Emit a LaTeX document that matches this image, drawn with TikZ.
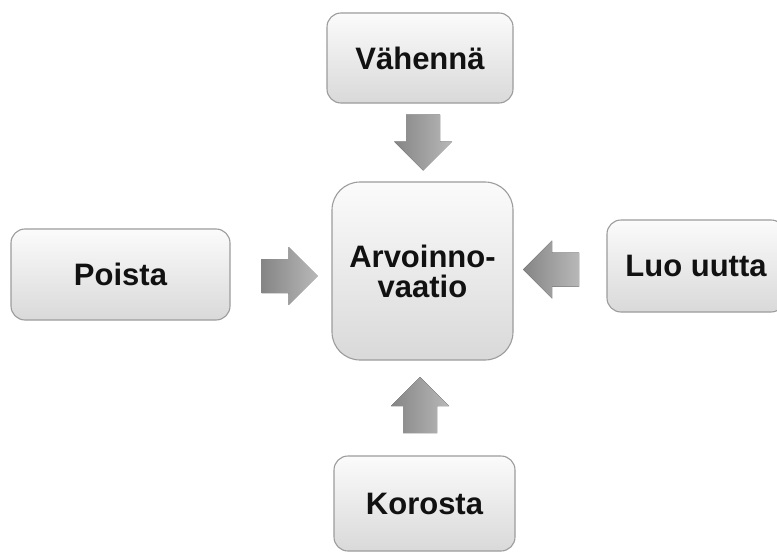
\documentclass[tikz,border=0pt]{standalone}
\usepackage{fontspec}
\setmainfont{Liberation Sans}
\definecolor{boxline}{HTML}{9C9C9C}
\definecolor{boxtop}{HTML}{FBFBFB}
\definecolor{boxbot}{HTML}{D9D9D9}
\definecolor{arrdark}{HTML}{858585}
\definecolor{arrlight}{HTML}{B8B8B8}
\definecolor{txt}{HTML}{111111}
\tikzset{
  box/.style={draw=boxline, line width=1.1pt, rounded corners=14pt,
    top color=boxtop, bottom color=boxbot, text=txt,
    font=\bfseries\fontsize{31}{30}\selectfont, align=center,
    inner sep=0pt},
  bigbox/.style={box, rounded corners=28pt},
  blockarr/.style={left color=arrdark, right color=arrlight, draw=none}
}
\newcommand{\blockarrow}[3]{%
  \begin{scope}[shift={(#1pt,#2pt)}, rotate=#3]
    \fill[blockarr] (-28pt,-17pt) -- (-1pt,-17pt) -- (-1pt,-29pt) -- (28pt,0pt)
      -- (-1pt,29pt) -- (-1pt,17pt) -- (-28pt,17pt) -- cycle;
  \end{scope}}
\begin{document}
\begin{tikzpicture}[x=1pt,y=1pt]
\useasboundingbox (0,0) rectangle (777,-554);
\clip (0,0) rectangle (777,-554);
\fill[white] (0,0) rectangle (777,-554);
\node[box, minimum width=186pt, minimum height=90pt] (vah) at (420,-58) {Vähennä};
\node[box, minimum width=219pt, minimum height=91pt] (poi) at (120.5,-274.5) {Poista};
\node[bigbox, minimum width=181pt, minimum height=178pt] (arv) at (422.5,-271) {Arvoinno-\\vaatio};
\node[box, minimum width=178pt, minimum height=92pt] (luo) at (696,-266) {Luo uutta};
\node[box, minimum width=181pt, minimum height=95pt] (kor) at (424.5,-503.5) {Korosta};
\blockarrow{289.5}{-276}{0}
\blockarrow{423}{-142.5}{-90}
\blockarrow{551}{-269.5}{180}
\blockarrow{420}{-405}{90}
\end{tikzpicture}
\end{document}
